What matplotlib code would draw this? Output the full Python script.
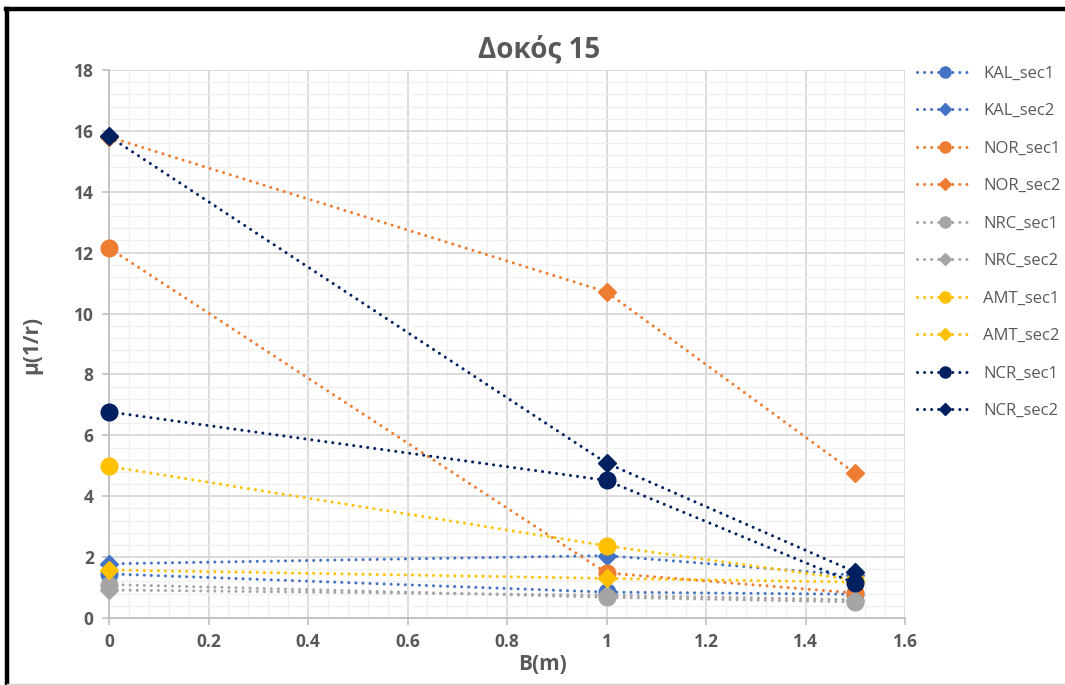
import matplotlib
matplotlib.use("Agg")
import matplotlib.pyplot as plt
from matplotlib.lines import Line2D
from matplotlib.ticker import MultipleLocator

plt.rcParams['font.family'] = ['Open Sans', 'DejaVu Sans']

# Beam positions B (m)
b_positions = [0, 1, 1.5]

# Curvature ductility per method and section
kal_sec1 = [1.45, 0.85, 0.78]
kal_sec2 = [1.78, 2.05, 1.40]
nor_sec1 = [12.15, 1.48, 0.82]
nor_sec2 = [15.80, 10.71, 4.75]
nrc_sec1 = [1.10, 0.68, 0.53]
nrc_sec2 = [0.92, 0.75, 0.60]
amt_sec1 = [4.98, 2.37, 1.25]
amt_sec2 = [1.58, 1.30, 1.18]
ncr_sec1 = [6.77, 4.52, 1.14]
ncr_sec2 = [15.82, 5.09, 1.51]

series_names = ["KAL_sec1", "KAL_sec2", "NOR_sec1", "NOR_sec2", "NRC_sec1",
                "NRC_sec2", "AMT_sec1", "AMT_sec2", "NCR_sec1", "NCR_sec2"]
series_values = [kal_sec1, kal_sec2, nor_sec1, nor_sec2, nrc_sec1,
                 nrc_sec2, amt_sec1, amt_sec2, ncr_sec1, ncr_sec2]

x_ticks = [0, 0.2, 0.4, 0.6, 0.8, 1, 1.2, 1.4, 1.6]
x_tick_labels = ["0", "0.2", "0.4", "0.6", "0.8", "1", "1.2", "1.4", "1.6"]
y_ticks = [0, 2, 4, 6, 8, 10, 12, 14, 16, 18]

colors = {"KAL": "#4472C4", "NOR": "#ED7D31", "NRC": "#A5A5A5",
          "AMT": "#FFC000", "NCR": "#002060"}

W, H = 1065, 685
fig = plt.figure(figsize=(W / 100, H / 100), dpi=100)
ax = fig.add_axes([109 / W, 1 - 618 / H, (905 - 109) / W, (618 - 70) / H])

dot_style = (0, (0.01, 2.3))
lw = 2.2
handles = []
for name, vals in zip(series_names, series_values):
    c = colors[name[:3]]
    is_sec1 = name.endswith("sec1")
    marker = "o" if is_sec1 else "D"
    ms = 12 if is_sec1 else 9
    ax.plot(b_positions, vals, linestyle=dot_style, linewidth=lw, color=c,
            dash_capstyle="round", marker=marker, markersize=ms,
            markerfacecolor=c, markeredgecolor=c, zorder=3, clip_on=False)
    handles.append(Line2D([0], [0], linestyle=dot_style, linewidth=lw, color=c,
                          dash_capstyle="round", marker=marker,
                          markersize=8 if is_sec1 else 6.5,
                          markerfacecolor=c, markeredgecolor=c))

ax.set_xlim(0, 1.6)
ax.set_ylim(0, 18)
ax.set_xticks(x_ticks)
ax.set_xticklabels(x_tick_labels)
ax.set_yticks(y_ticks)
ax.xaxis.set_minor_locator(MultipleLocator(0.04))
ax.yaxis.set_minor_locator(MultipleLocator(0.4))
ax.grid(which="major", color="#D9D9D9", linewidth=1.3, zorder=0)
ax.grid(which="minor", color="#F0F0F0", linewidth=1.0, zorder=0)
ax.set_axisbelow(True)

for side in ["top", "right"]:
    ax.spines[side].set_visible(False)
for side in ["left", "bottom"]:
    ax.spines[side].set_color("#BFBFBF")
    ax.spines[side].set_linewidth(1.3)

ax.tick_params(which="major", direction="out", length=5, width=1.2,
               color="#BFBFBF", labelcolor="#595959", labelsize=12.5, pad=6)
ax.tick_params(which="minor", length=0)
for lab in ax.get_xticklabels() + ax.get_yticklabels():
    lab.set_fontweight("bold")

fig.text(539 / W, 1 - 50 / H, "Δοκός 15", ha="center", va="center",
         fontsize=20, fontweight="bold", color="#595959")
fig.text(32 / W, 1 - 345 / H, "μ(1/r)", ha="center", va="center",
         rotation=90, fontsize=15, fontweight="bold", color="#595959")
fig.text(543 / W, 1 - 665 / H, "B(m)", ha="center", va="center",
         fontsize=15, fontweight="bold", color="#595959")

leg = fig.legend(handles, series_names, loc="upper left",
                 bbox_to_anchor=(910 / W, 1 - 59 / H), frameon=False,
                 fontsize=12, labelspacing=1.29, handlelength=3.4,
                 handletextpad=0.6, borderaxespad=0)
for t in leg.get_texts():
    t.set_color("#595959")

# Outer chart frame
fig.add_artist(Line2D([7 / W, 7 / W], [0, 1 - 9 / H], color="black",
                      linewidth=3.2, transform=fig.transFigure))
fig.add_artist(Line2D([5.5 / W, 1], [1 - 9 / H, 1 - 9 / H], color="black",
                      linewidth=3.2, transform=fig.transFigure))
fig.add_artist(Line2D([7 / W, 1], [1 - 684 / H, 1 - 684 / H], color="#D0D0D0",
                      linewidth=1.0, transform=fig.transFigure))

fig.savefig("out.png", dpi=100)
